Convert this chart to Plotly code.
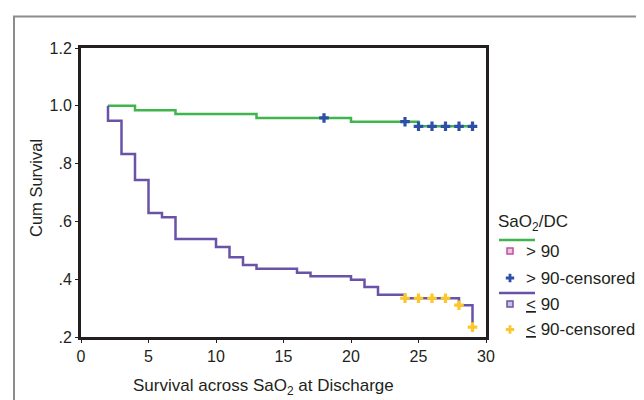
import plotly.graph_objects as go

# ---- data ----
hi_time = [2, 4, 7, 13, 20, 25, 29]
hi_surv = [1.0, 0.985, 0.972, 0.958, 0.945, 0.929, 0.929]
hi_cens_time = [18, 24, 25, 26, 27, 28, 29]
hi_cens_surv = [0.958, 0.945, 0.929, 0.929, 0.929, 0.929, 0.929]

lo_time = [2, 2, 3, 4, 5, 6, 7, 10, 11, 12, 13, 16, 17, 20, 21, 22, 24, 28, 29]
lo_surv = [1.0, 0.948, 0.833, 0.743, 0.629, 0.614, 0.539, 0.511, 0.476, 0.449,
           0.436, 0.422, 0.410, 0.398, 0.373, 0.346, 0.334, 0.310, 0.234]
lo_cens_time = [24, 25, 26, 27, 28, 29]
lo_cens_surv = [0.334, 0.334, 0.334, 0.334, 0.310, 0.234]

x_ticks = [0, 5, 10, 15, 20, 25, 30]
y_ticks = [0.2, 0.4, 0.6, 0.8, 1.0, 1.2]
y_tick_labels = [".2", ".4", ".6", ".8", "1.0", "1.2"]

legend_title = "SaO<sub>2</sub>/DC"
legend_labels = ["> 90", "> 90-censored", "<u>&lt;</u> 90", "<u>&lt;</u> 90-censored"]

# ---- style ----
GREEN = "#3fb54b"
PURPLE = "#6a52a6"
BLUE = "#2d4fa6"
YELLOW = "#fcc72a"
PINK = "#c24e9f"
TXT = "#231f20"
FONT = "Liberation Sans, Arial, sans-serif"
W, H = 644, 400

fig = go.Figure()

fig.add_trace(go.Scatter(x=hi_time, y=hi_surv, mode="lines", line=dict(color=GREEN, width=2.5, shape="hv"),
                         showlegend=False, hoverinfo="skip"))
fig.add_trace(go.Scatter(x=lo_time, y=lo_surv, mode="lines", line=dict(color=PURPLE, width=2.5, shape="hv"),
                         showlegend=False, hoverinfo="skip"))
fig.add_trace(go.Scatter(x=hi_cens_time, y=hi_cens_surv, mode="markers",
                         marker=dict(symbol="cross", size=8, color=BLUE), showlegend=False))
fig.add_trace(go.Scatter(x=lo_cens_time, y=lo_cens_surv, mode="markers",
                         marker=dict(symbol="cross", size=8, color=YELLOW), showlegend=False))

# ---- legend drawn on an overlay axis in pixel units ----
LX0, LX1, LMX, LTX = 491, 527, 502, 516
leg_line_y = [232, 285]
leg_line_col = [GREEN, PURPLE]
for yy, cc in zip(leg_line_y, leg_line_col):
    fig.add_trace(go.Scatter(x=[LX0, LX1], y=[yy, yy], mode="lines", line=dict(color=cc, width=2.5),
                             xaxis="x2", yaxis="y2", showlegend=False, hoverinfo="skip"))
leg_mark_y = [243, 270, 296, 321.5]
leg_mark_sym = ["square", "cross", "square", "cross"]
leg_mark_col = [PINK, BLUE, PURPLE, YELLOW]
for yy, sym, cc in zip(leg_mark_y, leg_mark_sym, leg_mark_col):
    if sym == "square":
        mk = dict(symbol="square", size=6, color="#e9c6df" if cc == PINK else "#c9c0e2",
                  line=dict(color=cc, width=1.5))
    else:
        mk = dict(symbol="cross", size=7, color=cc)
    fig.add_trace(go.Scatter(x=[LMX], y=[yy], mode="markers", marker=mk,
                             xaxis="x2", yaxis="y2", showlegend=False, hoverinfo="skip"))

annotations = []
for yy, lab in zip(leg_mark_y, legend_labels):
    annotations.append(dict(x=LTX, y=yy, xref="x2", yref="y2", text=lab, showarrow=False,
                            xanchor="left", yanchor="middle", font=dict(size=17, color=TXT, family=FONT)))
annotations.append(dict(x=488, y=215, xref="x2", yref="y2", text=legend_title, showarrow=False,
                        xanchor="left", yanchor="middle", font=dict(size=17, color=TXT, family=FONT)))
annotations.append(dict(x=28, y=180, xref="x2", yref="y2", text="Cum Survival", showarrow=False,
                        textangle=-90, xanchor="center", yanchor="middle",
                        font=dict(size=16.5, color=TXT, family=FONT)))
annotations.append(dict(x=255, y=379, xref="x2", yref="y2", text="Survival across SaO<sub>2</sub> at Discharge",
                        showarrow=False, xanchor="center", yanchor="middle",
                        font=dict(size=17, color=TXT, family=FONT)))

axis_common = dict(showline=True, linecolor="#231f20", linewidth=3, mirror=True, showgrid=False,
                   zeroline=False, ticks="outside", ticklen=3, tickwidth=1, tickcolor="#231f20",
                   tickfont=dict(size=16, color=TXT, family=FONT), automargin=False)

fig.update_layout(
    width=W, height=H,
    margin=dict(l=0, r=0, t=0, b=0),
    paper_bgcolor="white", plot_bgcolor="rgba(0,0,0,0)",
    showlegend=False,
    xaxis=dict(domain=[73 / W, 478 / W], range=[0, 30], tickvals=x_ticks, anchor="y", **axis_common),
    yaxis=dict(domain=[1 - 329 / H, 1 - 40 / H], range=[0.2, 1.2], tickvals=y_ticks, ticktext=y_tick_labels,
               anchor="x", **axis_common),
    xaxis2=dict(domain=[0, 1], range=[0, W], visible=False, anchor="y2", fixedrange=True),
    yaxis2=dict(domain=[0, 1], range=[H, 0], visible=False, anchor="x2", fixedrange=True),
    annotations=annotations,
    shapes=[dict(type="path", xref="x2", yref="y2",
                 path=f"M 6,{H + 5} L 6,8.5 L {W + 5},8.5",
                 line=dict(color="#8c8c8c", width=2))],
)

fig.write_html("out.html")
